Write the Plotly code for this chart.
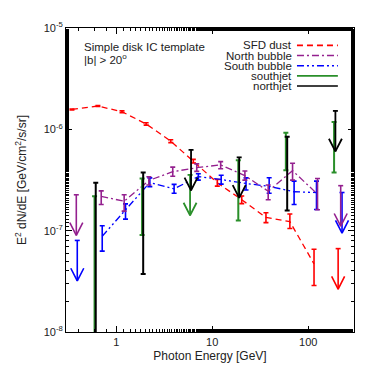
import plotly.graph_objects as go

# energies in GeV, fluxes E^2 dN/dE in GeV/cm^2/s/sr
sfd_e = [0.346, 0.645, 1.15, 2.05, 3.70, 6.36, 11.3, 20.3, 36.3, 64.4, 115]
sfd_y = [1.57e-6, 1.70e-6, 1.49e-6, 1.13e-6, 7.65e-7, 4.85e-7, 2.97e-7, 2.02e-7, 1.35e-7, 1.23e-7, 4.7e-8]
sfd_hi = [1.59e-6, 1.72e-6, 1.52e-6, 1.16e-6, 7.9e-7, 5.05e-7, 3.2e-7, 2.2e-7, 1.50e-7, 1.46e-7, 6.56e-8]
sfd_lo = [1.55e-6, 1.68e-6, 1.46e-6, 1.10e-6, 7.4e-7, 4.65e-7, 2.75e-7, 1.85e-7, 1.20e-7, 1.05e-7, 2.88e-8]
sfd_ul_e = [205]
sfd_ul_y = [6.65e-8]

north_e = [0.698, 1.21, 2.19, 3.88, 6.90, 12.25, 21.9, 38.3, 68.7, 125]
north_y = [2.18e-7, 1.95e-7, 3.13e-7, 3.82e-7, 4.18e-7, 4.46e-7, 3.49e-7, 2.45e-7, 3.91e-7, 2.29e-7]
north_hi = [2.47e-7, 2.26e-7, 3.40e-7, 4.24e-7, 4.56e-7, 4.80e-7, 3.88e-7, 2.82e-7, 4.63e-7, 3.27e-7]
north_lo = [1.81e-7, 1.56e-7, 2.82e-7, 3.44e-7, 3.85e-7, 4.09e-7, 3.15e-7, 2.02e-7, 3.15e-7, 1.61e-7]
north_ul_e = [0.384, 218]
north_ul_y = [2.26e-7, 2.78e-7]

south_e = [0.715, 1.25, 2.24, 4.01, 7.17, 12.4, 22.5, 39.2, 71.3, 122]
south_y = [8.81e-8, 1.62e-7, 2.99e-7, 2.59e-7, 3.42e-7, 3.20e-7, 2.92e-7, 2.74e-7, 2.42e-7, 2.38e-7]
south_hi = [1.12e-7, 1.84e-7, 3.32e-7, 2.86e-7, 3.65e-7, 3.52e-7, 3.32e-7, 3.33e-7, 3.08e-7, 3.08e-7]
south_lo = [6.28e-8, 1.30e-7, 2.72e-7, 2.34e-7, 3.15e-7, 2.88e-7, 2.52e-7, 2.34e-7, 1.81e-7, 1.62e-7]
south_ul_e = [0.393, 225]
south_ul_y = [8.01e-8, 2.38e-7]

sjet_e = [0.595, 1.86, 18.7, 58.5, 186]
sjet_y = [5e-8, 1.7e-7, 2.5e-7, 6.0e-7, 6.6e-7]
sjet_hi = [2.18e-7, 3.27e-7, 4.95e-7, 9.23e-7, 1.18e-6]
sjet_lo = [1e-9, 9.08e-8, 1.26e-7, 3.94e-7, 3.74e-7]
sjet_ul_e = [5.88]
sjet_ul_y = [3.55e-7]

njet_e = [0.612, 1.91, 60.4]
njet_y = [5e-8, 1.2e-7, 3.65e-7]
njet_hi = [2.97e-7, 3.74e-7, 8.44e-7]
njet_lo = [1e-9, 3.74e-8, 1.58e-7]
njet_ul_e = [6.02, 19.1, 192]
njet_ul_y = [6.27e-7, 5.29e-7, 1.52e-6]

RED = "#ff0000"
PURPLE = "#94208f"
BLUE = "#0000ff"
GREEN = "#2a8f2a"
BLACK = "#000000"
FONT = "Liberation Sans, Arial, sans-serif"

DASH = "6px,4px"
DASHDOT = "7px,3px,2px,3px"
DASHDOTDOT = "7px,3px,2px,3px,2px,3px"


def points(e, y, hi, lo, color, dash=None, width=1.6):
    # error bars, optionally joined by a line
    tr = go.Scatter(
        x=e, y=y,
        mode="lines" if dash else "markers",
        line=dict(color=color, width=1.3, dash=dash),
        marker=dict(size=1, opacity=0),
        error_y=dict(type="data", symmetric=False,
                     array=[h - v for h, v in zip(hi, y)],
                     arrayminus=[v - l for v, l in zip(y, lo)],
                     color=color, thickness=width, width=2.5),
        showlegend=False, hoverinfo="skip",
    )
    return tr


def upper_limits(e, y, color, width=1.6):
    # bar with cap at the limit and an open arrowhead below
    drop = 10 ** 0.40
    head = 10 ** (13 / 103.7)
    arm = 10 ** (6.5 / 96.2)
    cap = 10 ** (2.5 / 96.2)
    xs, ys = [], []
    for ee, v in zip(e, y):
        tip = v / drop
        xs += [ee / cap, ee * cap, None, ee, ee, None, ee / arm, ee, ee * arm, None]
        ys += [v, v, None, v, tip, None, tip * head, tip, tip * head, None]
    return go.Scatter(x=xs, y=ys, mode="lines", line=dict(color=color, width=width),
                      showlegend=False, hoverinfo="skip")


traces = [
    points(sfd_e, sfd_y, sfd_hi, sfd_lo, RED, DASH),
    upper_limits(sfd_ul_e, sfd_ul_y, RED),
    points(south_e, south_y, south_hi, south_lo, BLUE, DASHDOTDOT),
    upper_limits(south_ul_e, south_ul_y, BLUE),
    points(north_e, north_y, north_hi, north_lo, PURPLE, DASHDOT),
    upper_limits(north_ul_e, north_ul_y, PURPLE),
    points(sjet_e, sjet_y, sjet_hi, sjet_lo, GREEN, width=2),
    upper_limits(sjet_ul_e, sjet_ul_y, GREEN, width=1.8),
    points(njet_e, njet_y, njet_hi, njet_lo, BLACK, width=2),
    upper_limits(njet_ul_e, njet_ul_y, BLACK, width=1.8),
]

fig = go.Figure(data=traces)

axis_common = dict(
    type="log", showgrid=False, zeroline=False,
    showline=True, linecolor="black", linewidth=1, mirror="allticks",
    ticks="inside", ticklen=6, tickcolor="black",
    minor=dict(ticks="inside", ticklen=3, tickcolor="black", showgrid=False),
    tickfont=dict(family=FONT, size=11, color="#222"),
)

fig.update_xaxes(
    range=[-0.523, 2.477],
    tickvals=[1, 10, 100], ticktext=["1", "10", "100"],
    title=dict(text="Photon Energy [GeV]", font=dict(family=FONT, size=12, color="#222"), standoff=4),
    **axis_common,
)
fig.update_yaxes(
    range=[-8, -5],
    tickvals=[1e-8, 1e-7, 1e-6, 1e-5],
    ticktext=["10<sup>-8</sup>", "10<sup>-7</sup>", "10<sup>-6</sup>", "10<sup>-5</sup>"],
    title=dict(text="E<sup>2</sup> dN/dE [GeV/cm<sup>2</sup>/s/sr]",
               font=dict(family=FONT, size=12, color="#222"), standoff=14),
    **axis_common,
)

# legend drawn gnuplot style: text right aligned, sample on the right
legend_names = ["SFD dust", "North bubble", "South bubble", "southjet", "northjet"]
legend_colors = [RED, PURPLE, BLUE, GREEN, BLACK]
legend_dash = [DASH, DASHDOT, DASHDOTDOT, "solid", "solid"]
annotations = []
shapes = []
for i, name in enumerate(legend_names):
    yy = 0.943 - i * 0.0335
    annotations.append(dict(xref="paper", yref="paper", x=0.788, y=yy, text=name,
                            showarrow=False, xanchor="right", yanchor="middle", borderpad=0,
                            font=dict(family=FONT, size=11.5, color="#222")))
    shapes.append(dict(type="line", xref="paper", yref="paper", x0=0.802, x1=0.944, y0=yy, y1=yy,
                       line=dict(color=legend_colors[i], width=1.6, dash=legend_dash[i])))

annotations.append(dict(xref="paper", yref="paper", x=0.059, y=0.939, text="Simple disk IC template",
                        showarrow=False, xanchor="left", yanchor="middle", borderpad=0,
                        font=dict(family=FONT, size=11.5, color="#222")))
annotations.append(dict(xref="paper", yref="paper", x=0.059, y=0.898, text="|b| > 20<sup>o</sup>",
                        showarrow=False, xanchor="left", yanchor="middle", borderpad=0,
                        font=dict(family=FONT, size=11.5, color="#222")))

# the page keeps an 8px body margin, so the figure is shrunk by that much
fig.update_layout(
    width=366, height=366,
    margin=dict(l=58, r=20, t=13, b=42),
    paper_bgcolor="white", plot_bgcolor="white",
    showlegend=False,
    annotations=annotations, shapes=shapes,
)

fig.write_html("out.html")
